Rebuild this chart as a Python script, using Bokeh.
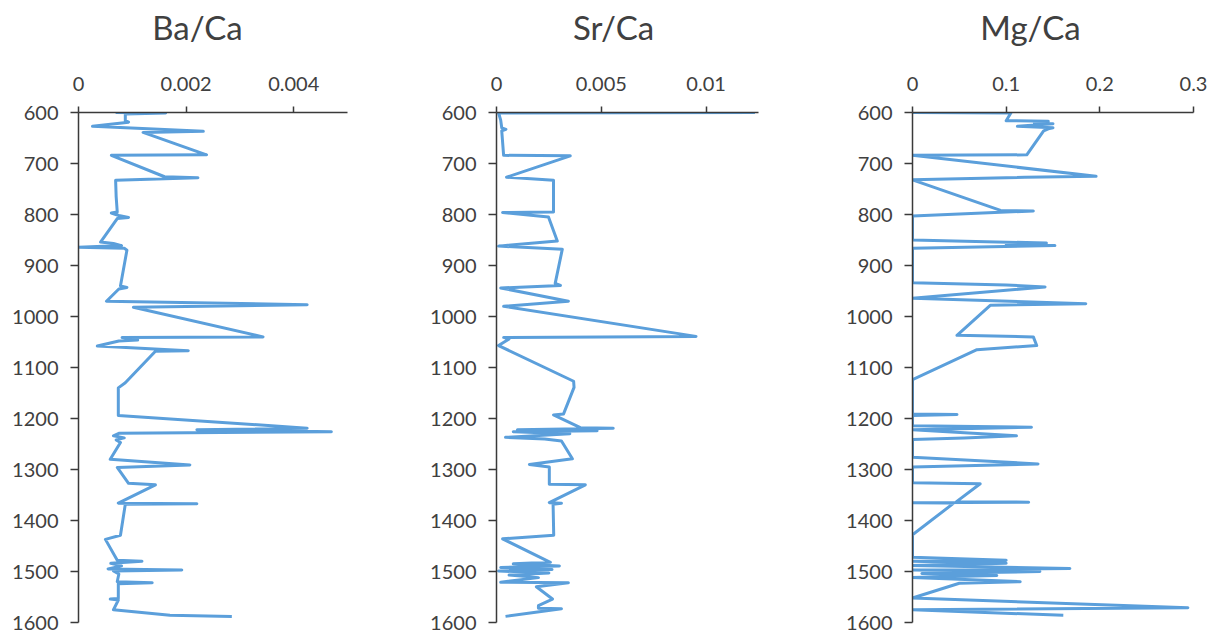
from bokeh.plotting import figure
from bokeh.layouts import row, column
from bokeh.models import Range1d, FixedTicker
from bokeh.core.properties import value
from bokeh.embed import file_html
from bokeh.resources import INLINE

# ---------------- data ----------------
titles = ["Ba/Ca", "Sr/Ca", "Mg/Ca"]
depth_ticks = [600, 700, 800, 900, 1000, 1100, 1200, 1300, 1400, 1500, 1600]

ba_depth = [600, 601, 603, 616, 619, 627, 637, 639, 683, 684, 726, 728, 733, 765, 795, 797, 802, 806, 808,
            854, 857, 861, 864, 866, 870, 940, 943, 946, 970, 977, 982, 1040, 1041, 1046, 1048, 1058, 1067,
            1068, 1130, 1140, 1194, 1219, 1222, 1226, 1229, 1234, 1238, 1242, 1247, 1280, 1291, 1296, 1327,
            1330, 1366, 1367, 1368, 1429, 1437, 1478, 1480, 1484, 1489, 1495, 1497, 1499, 1505, 1520, 1522,
            1524, 1553, 1554, 1556, 1575, 1586, 1588]
ba_ca = [0.00069, 0.00162, 0.00087, 0.00087, 0.00093, 0.00026, 0.00232, 0.00120, 0.00238, 0.00061,
         0.00160, 0.00222, 0.00069, 0.00070, 0.00072, 0.00061, 0.00075, 0.00093, 0.00072,
         0.00041, 0.00065, 0.00080, 0.00000, 0.00085, 0.00090, 0.00078, 0.00090, 0.00075, 0.00052,
         0.00425, 0.00102, 0.00343, 0.00081, 0.00110, 0.00075, 0.00035, 0.00204,
         0.00143, 0.00087, 0.00074, 0.00074, 0.00425, 0.00220, 0.00470, 0.00075, 0.00065, 0.00085,
         0.00070, 0.00078, 0.00059, 0.00207, 0.00072, 0.00093,
         0.00143, 0.00074, 0.00220, 0.00087, 0.00078, 0.00050, 0.00072, 0.00118, 0.00060, 0.00080,
         0.00055, 0.00192, 0.00065, 0.00075, 0.00072, 0.00137,
         0.00074, 0.00074, 0.00059, 0.00074, 0.00065, 0.00170, 0.00285]

sr_depth = [600, 601, 615, 630, 633, 636, 684, 685, 727, 733, 795, 796, 805, 852, 862, 868, 935, 939, 944,
            970, 980, 1039, 1041, 1044, 1057, 1127, 1139, 1191, 1193, 1218, 1219, 1222, 1224, 1226, 1230,
            1237, 1240, 1244, 1279, 1290, 1295, 1329, 1330, 1365, 1366, 1368, 1429, 1436, 1482, 1485, 1489,
            1492, 1496, 1499, 1503, 1507, 1512, 1521, 1522, 1530, 1554, 1567, 1572, 1573, 1588]
sr_ca = [0.01233, 0.00010, 0.00020, 0.00025, 0.00045, 0.00025, 0.00034, 0.00352, 0.00048, 0.00272,
         0.00272, 0.00029, 0.00248, 0.00290, 0.00010, 0.00314, 0.00280, 0.00305, 0.00020,
         0.00343, 0.00034, 0.00952, 0.00034, 0.00060, 0.00010, 0.00368, 0.00370, 0.00320, 0.00272,
         0.00400, 0.00557, 0.00100, 0.00480, 0.00080, 0.00350,
         0.00043, 0.00230, 0.00310, 0.00362, 0.00157, 0.00252, 0.00252, 0.00424, 0.00252, 0.00310,
         0.00270, 0.00273, 0.00029, 0.00257, 0.00080, 0.00300,
         0.00020, 0.00265, 0.00010, 0.00250, 0.00060, 0.00200, 0.00020, 0.00343, 0.00190, 0.00267,
         0.00200, 0.00200, 0.00310, 0.00043]

mg_depth = [600, 601, 616, 617, 620, 622, 627, 630, 632, 636, 683, 684, 725, 727, 732, 792, 793, 803, 850,
            856, 858, 861, 866, 934, 938, 942, 964, 975, 978, 1037, 1040, 1057, 1065, 1124, 1191, 1192,
            1194, 1214, 1217, 1222, 1234, 1238, 1241, 1276, 1289, 1295, 1326, 1328, 1363, 1364, 1365,
            1366, 1428, 1472, 1478, 1480, 1484, 1488, 1494, 1497, 1500, 1504, 1508, 1512, 1520, 1523,
            1552, 1571, 1575, 1586]
mg_ca = [0.0, 0.105, 0.100, 0.145, 0.130, 0.150, 0.112, 0.150, 0.145, 0.140, 0.122, 0.0, 0.196, 0.120,
         0.0, 0.094, 0.129, 0.0, 0.0,
         0.143, 0.100, 0.152, 0.0, 0.0, 0.100, 0.1415, 0.0, 0.185, 0.083, 0.0475, 0.129, 0.1326, 0.0688,
         0.0, 0.0, 0.0475,
         0.0, 0.0, 0.127, 0.0, 0.111, 0.055, 0.0, 0.0, 0.134, 0.0, 0.0, 0.0723, 0.047, 0.124, 0.0,
         0.044, 0.0, 0.0, 0.100, 0.0, 0.100, 0.0, 0.168, 0.0, 0.136, 0.010, 0.090, 0.0, 0.115, 0.050,
         0.0, 0.294, 0.0, 0.161]

x_max = [0.005, 0.0125, 0.3]
x_ticks = [[0, 0.002, 0.004], [0, 0.005, 0.01], [0, 0.1, 0.2, 0.3]]
x_tick_labels = [["0", "0.002", "0.004"], ["0", "0.005", "0.01"], ["0", "0.1", "0.2", "0.3"]]

# ---------------- styling ----------------
FONT = "Lato"
TEXT = "#404040"
AXIS = "#3a3a3a"
LINE = "#5B9FDB"
TITLE_H = 60          # height of the title strip above each panel
TOTAL_H = 635

layout_spec = [  # width, border left, border right, title centre x (pixels within the panel)
    (410, 78, 63, 197),
    (410, 86, 62, 203),
    (397, 92, 24, 210),
]

series = [(ba_depth, ba_ca), (sr_depth, sr_ca), (mg_depth, mg_ca)]

cols = []
for i in range(3):
    w, bl, br, tx = layout_spec[i]
    depth, vals = series[i]

    # title strip (its frame lines up with the data panel's frame, so use pixel coordinates)
    t = figure(width=w, height=TITLE_H, output_backend="svg", toolbar_location=None,
               x_range=Range1d(bl, w - br), y_range=Range1d(0, TITLE_H),
               min_border_left=bl, min_border_right=br, min_border_top=0, min_border_bottom=0,
               x_axis_type=None, y_axis_type=None)
    t.outline_line_color = None
    t.xgrid.visible = False
    t.ygrid.visible = False
    t.text(x=[tx], y=[TITLE_H - 26], text=[titles[i]], text_align="center", text_baseline="middle",
           text_font=value(FONT), text_font_size="33px", text_color=TEXT)

    # data panel
    p = figure(width=w, height=TOTAL_H - TITLE_H, output_backend="svg", toolbar_location=None,
               x_range=Range1d(0, x_max[i]), y_range=Range1d(1600, 600),
               x_axis_location="above",
               min_border_left=bl, min_border_right=br, min_border_top=112 - TITLE_H,
               min_border_bottom=13)
    p.line(vals, depth, line_color=LINE, line_width=3, line_join="round")

    p.outline_line_color = None
    p.xgrid.visible = False
    p.ygrid.visible = False

    xa = p.xaxis[0]
    xa.ticker = FixedTicker(ticks=x_ticks[i])
    xa.major_label_overrides = {tk: lb for tk, lb in zip(x_ticks[i], x_tick_labels[i])}
    xa.major_tick_in = 0
    xa.major_tick_out = 6
    xa.minor_tick_line_color = None
    xa.major_label_standoff = 16
    xa.major_label_text_font = FONT
    xa.major_label_text_font_size = "20px"
    xa.major_label_text_color = TEXT
    xa.axis_line_color = AXIS
    xa.major_tick_line_color = AXIS
    xa.axis_line_width = 1.5
    xa.major_tick_line_width = 1.5

    ya = p.yaxis[0]
    ya.ticker = FixedTicker(ticks=depth_ticks)
    ya.major_tick_in = 0
    ya.major_tick_out = 8
    ya.minor_tick_line_color = None
    ya.major_label_standoff = 12
    ya.major_label_text_font = FONT
    ya.major_label_text_font_size = "20px"
    ya.major_label_text_color = TEXT
    ya.axis_line_color = AXIS
    ya.major_tick_line_color = AXIS
    ya.axis_line_width = 1.5
    ya.major_tick_line_width = 1.5

    cols.append(column(t, p, spacing=0))

layout = row(*cols, spacing=0)
open("out.html", "w").write(file_html(layout, INLINE))
